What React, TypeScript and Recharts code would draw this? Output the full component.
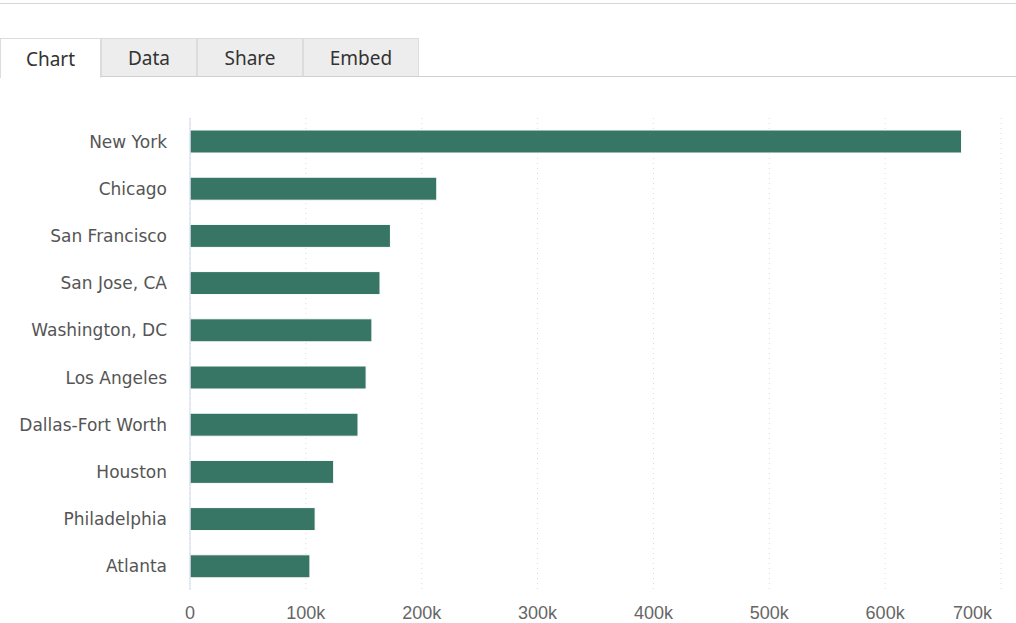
import { Bar, BarChart, CartesianGrid, XAxis, YAxis } from "recharts";

const cities = [
  "New York",
  "Chicago",
  "San Francisco",
  "San Jose, CA",
  "Washington, DC",
  "Los Angeles",
  "Dallas-Fort Worth",
  "Houston",
  "Philadelphia",
  "Atlanta"
];
const jobs = [666000, 213000, 173000, 164000, 157000, 152000, 145000, 124000, 108000, 103500];
const xTicks = [0, 100000, 200000, 300000, 400000, 500000, 600000, 700000];
const tabs = ["Chart", "Data", "Share", "Embed"];
const tabWidths = [101, 96, 106, 116];

const data = cities.map((city, i) => ({ city, jobs: jobs[i] }));

function fmtK(v: number) {
  return v === 0 ? "0" : `${v / 1000}k`;
}

// last label is pulled inside the plot like Highcharts does
function XTick(props: any) {
  const { x, y, payload } = props;
  const last = payload.value === xTicks[xTicks.length - 1];
  return (
    <text
      x={x}
      y={y}
      dy="0.71em"
      textAnchor={last ? "end" : "middle"}
      fill="#666"
      fontSize={18}
      fontFamily="'Liberation Sans Narrow', 'Liberation Sans', sans-serif"
    >
      {fmtK(payload.value)}
    </text>
  );
}

function Tabs() {
  return (
    <div style={{ position: "absolute", left: 0, top: 38, width: 1016, height: 40 }}>
      <div style={{ position: "absolute", left: 0, right: 0, top: 38, borderTop: "1px solid #d0d0d0" }} />
      {tabs.map((t, i) => {
        const left = tabWidths.slice(0, i).reduce((a, b) => a + b, 0);
        const active = i === 0;
        return (
          <div
            key={t}
            style={{
              position: "absolute",
              left,
              top: 0,
              width: tabWidths[i],
              height: active ? 40 : 39,
              background: active ? "#fff" : "#ededed",
              border: "1px solid #dcdcdc",
              borderBottom: active ? "none" : "1px solid #d0d0d0",
              boxSizing: "border-box",
              display: "flex",
              alignItems: "center",
              justifyContent: "center",
              fontFamily: "'Noto Sans', sans-serif",
              fontSize: 19,
              color: "#333"
            }}
          >
            {t}
          </div>
        );
      })}
    </div>
  );
}

export default function App() {
  return (
    <div style={{ position: "absolute", left: 0, top: 0, width: 1016, height: 623, background: "#fff", overflow: "hidden" }}>
      <div style={{ position: "absolute", left: 0, top: 3, width: 1016, borderTop: "1px solid #d8d8d8" }} />
      <Tabs />
      <div style={{ position: "absolute", left: 0, top: 0 }}>
        <BarChart
          width={1016}
          height={623}
          data={data}
          layout="vertical"
          margin={{ top: 118, right: 15, bottom: 3, left: 0 }}
        >
          <CartesianGrid horizontal={false} stroke="#dcdcdc" strokeDasharray="1 4" />
          <XAxis
            type="number"
            domain={[0, 700000]}
            ticks={xTicks}
            axisLine={false}
            tickLine={false}
            height={30}
            tickMargin={10}
            tick={<XTick />}
          />
          <YAxis
            type="category"
            dataKey="city"
            width={190}
            axisLine={{ stroke: "#ccd6eb" }}
            tickLine={false}
            tickMargin={17}
            tick={{ fill: "#555", fontSize: 17, fontFamily: "'DejaVu Sans', sans-serif" }}
          />
          <Bar dataKey="jobs" barSize={23} fill="#377565" stroke="#fff" strokeWidth={1} isAnimationActive={false} />
        </BarChart>
      </div>
    </div>
  );
}
